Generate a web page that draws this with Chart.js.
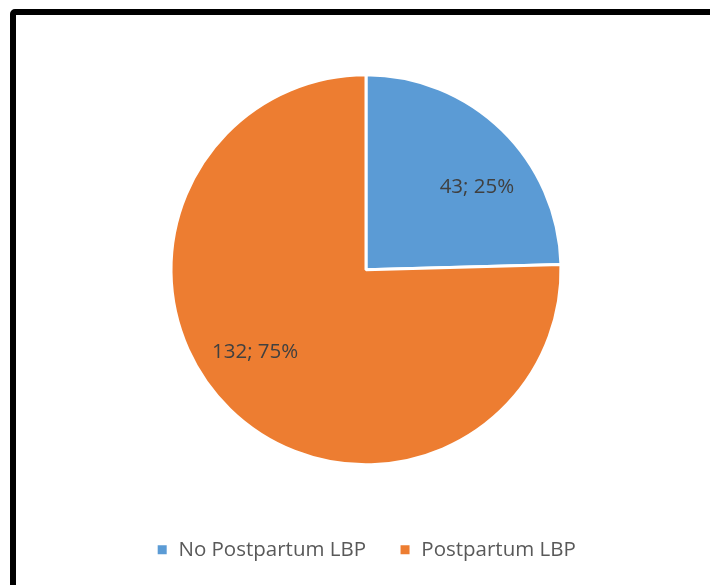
<!DOCTYPE html>
<html>
<head>
<meta charset="utf-8">
<script src="https://cdn.jsdelivr.net/npm/chart.js@4"></script>
<style>
  html, body { margin: 0; padding: 0; background: #fff; }
  #wrap { position: relative; width: 710px; height: 585px; overflow: hidden; }
  #frame {
    position: absolute; left: 10px; top: 9px; width: 720px; height: 600px;
    border: 6px solid #000; border-top-left-radius: 5px; box-sizing: border-box;
  }
  canvas { position: absolute; left: 0; top: 0; }
</style>
</head>
<body>
<div id="wrap">
  <div id="frame"></div>
  <canvas id="pie" width="710" height="585"></canvas>
</div>
<script>
const labels = ['No Postpartum LBP', 'Postpartum LBP'];
const counts = [43, 132];
const colors = ['#5B9BD5', '#ED7D31'];

// "43; 25%" style labels inside the slices
const sliceLabels = {
  id: 'sliceLabels',
  afterDatasetsDraw(chart) {
    const ctx = chart.ctx;
    const meta = chart.getDatasetMeta(0);
    const total = counts.reduce((a, b) => a + b, 0);
    ctx.save();
    ctx.font = '20.5px "Open Sans"';
    ctx.fillStyle = '#404040';
    ctx.textAlign = 'center';
    ctx.textBaseline = 'middle';
    meta.data.forEach((arc, i) => {
      const p = arc.getProps(['x', 'y', 'startAngle', 'endAngle', 'outerRadius'], true);
      const mid = (p.startAngle + p.endAngle) / 2 + 9 * Math.PI / 180;
      const r = p.outerRadius * 0.71;
      const pct = Math.round(counts[i] / total * 100);
      ctx.fillText(counts[i] + '; ' + pct + '%', p.x + Math.cos(mid) * r, p.y + Math.sin(mid) * r);
    });
    ctx.restore();
  }
};

new Chart(document.getElementById('pie').getContext('2d'), {
  type: 'pie',
  data: {
    labels: labels,
    datasets: [{
      data: counts,
      backgroundColor: colors,
      borderColor: '#ffffff',
      borderWidth: 3,
      radius: 195,
      hoverOffset: 0
    }]
  },
  options: {
    responsive: false,
    animation: false,
    layout: { padding: { top: 33, bottom: 15, left: 22, right: 0 } },
    plugins: {
      legend: {
        position: 'bottom',
        labels: {
          // white slice border eats 1.5px per side -> 9px visible square
          boxWidth: 12,
          boxHeight: 12,
          padding: 33,
          color: '#595959',
          font: { family: 'Open Sans', size: 20.5 }
        }
      },
      tooltip: { enabled: false }
    }
  },
  plugins: [sliceLabels]
});
</script>
</body>
</html>
